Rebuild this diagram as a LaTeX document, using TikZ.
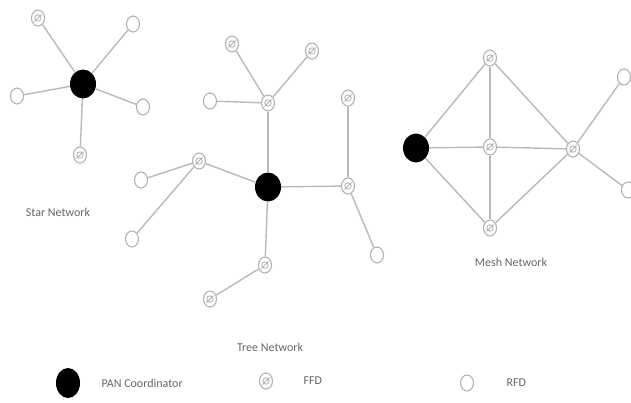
\documentclass[tikz,border=0pt]{standalone}
\usepackage{fontspec}
\setmainfont{Carlito}
\usetikzlibrary{shapes.geometric}
\begin{document}
\begin{tikzpicture}[x=1pt,y=-1pt,
    pan/.style={ellipse,fill=black,minimum width=26pt,minimum height=29pt,inner sep=0pt},
    rfd/.style={ellipse,draw=gray!60,line width=1.1pt,fill=white,minimum width=13pt,minimum height=16pt,inner sep=0pt},
    ffd/.style={rfd,path picture={
        \draw[gray!60,line width=0.8pt] (path picture bounding box.center) circle (3.2pt);
        \draw[gray!60,line width=0.8pt] ([shift={(-3.5pt,-3.5pt)}]path picture bounding box.center) -- ([shift={(3.5pt,3.5pt)}]path picture bounding box.center);}},
    link/.style={draw=gray!55,line width=1.4pt},
    lbl/.style={font=\fontsize{12}{14}\selectfont,text=gray!80!black}]
  \useasboundingbox (0,0) rectangle (631,402);
  \clip (0,0) rectangle (631,402);
  % star network
  \node[pan] (s0) at (83,84) {};
  \node[ffd] (s1) at (38,18) {};
  \node[rfd] (s2) at (133,24) {};
  \node[rfd] (s3) at (17,96) {};
  \node[rfd] (s4) at (143,107) {};
  \node[ffd] (s5) at (80,155) {};
  \foreach \n in {s1,s2,s3,s4,s5} \draw[link] (s0) -- (\n);
  \node[lbl] (starlbl) at (58,212) {Star Network};
  % tree network
  \node[pan] (t0) at (268,187) {};
  \node[ffd] (t1) at (268,103) {};
  \node[ffd] (t2) at (232,44) {};
  \node[ffd] (t3) at (312,51) {};
  \node[rfd] (t4) at (210,101) {};
  \node[ffd] (t5) at (348,98) {};
  \node[ffd] (t6) at (348,186) {};
  \node[rfd] (t7) at (377,255) {};
  \node[ffd] (t8) at (265,265) {};
  \node[ffd] (t9) at (210,299) {};
  \node[ffd] (t10) at (199,161) {};
  \node[rfd] (t11) at (141,180) {};
  \node[rfd] (t12) at (132,239) {};
  \foreach \a/\b in {t0/t1,t1/t2,t1/t3,t1/t4,t0/t6,t6/t5,t6/t7,t0/t8,t8/t9,t0/t10,t10/t11,t10/t12}
    \draw[link] (\a) -- (\b);
  \node[lbl] (treelbl) at (270,347) {Tree Network};
  % mesh network
  \node[pan] (m0) at (416,148) {};
  \node[ffd] (m1) at (490,58) {};
  \node[ffd] (m2) at (490,147) {};
  \node[ffd] (m3) at (490,228) {};
  \node[ffd] (m4) at (573,149) {};
  \node[rfd] (m5) at (624,77) {};
  \node[rfd] (m6) at (628,190) {};
  \foreach \a/\b in {m0/m1,m0/m2,m0/m3,m1/m2,m2/m3,m1/m4,m2/m4,m3/m4,m4/m5,m4/m6}
    \draw[link] (\a) -- (\b);
  \node[lbl] (meshlbl) at (511,262) {Mesh Network};
  % legend
  \node[pan,minimum width=24pt,minimum height=30pt] (kpan) at (68,383) {};
  \node[lbl,anchor=west] (kpanlbl) at (98,383) {PAN Coordinator};
  \node[ffd] (kffd) at (266,381) {};
  \node[lbl,anchor=west] (kffdlbl) at (300,381) {FFD};
  \node[rfd] (krfd) at (467,383) {};
  \node[lbl,anchor=west] (krfdlbl) at (503,383) {RFD};
\end{tikzpicture}
\end{document}
